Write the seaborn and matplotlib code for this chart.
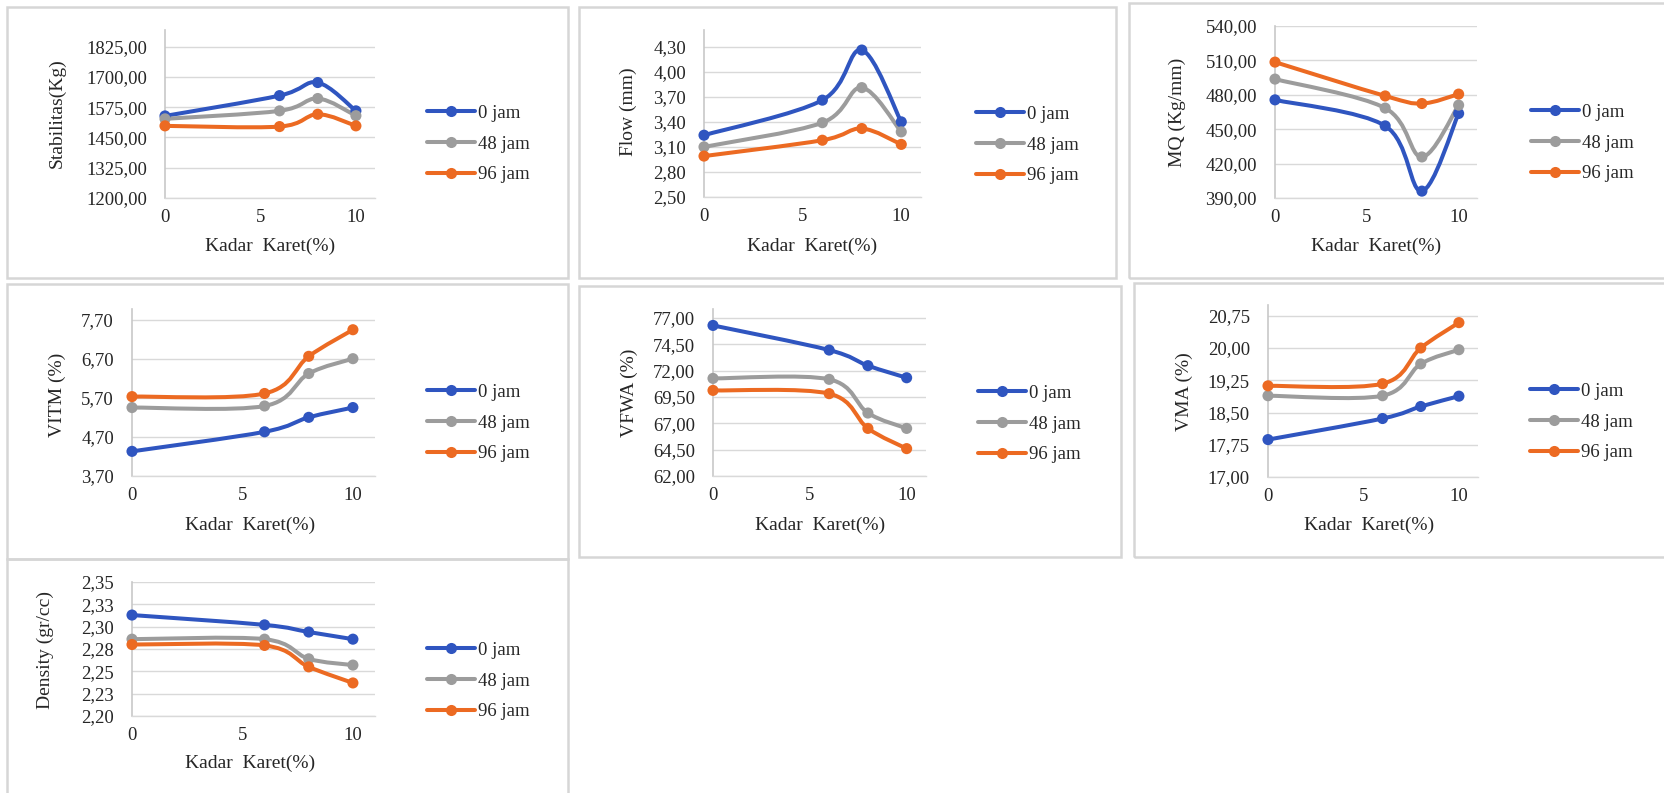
import numpy as np
import pandas as pd
import matplotlib
matplotlib.use("Agg")
import matplotlib.pyplot as plt
from matplotlib.path import Path
from matplotlib.patches import PathPatch, Rectangle
from matplotlib.lines import Line2D
import seaborn as sns

# ---------------- data ----------------
kadar_karet = [0, 6, 8, 10]
series_names = ["0 jam", "48 jam", "96 jam"]
x_ticks = [0, 5, 10]
x_tick_labels = ["0", "5", "10"]

stab_0 = [1539, 1623, 1677, 1560]
stab_48 = [1527, 1560, 1611, 1540]
stab_96 = [1498, 1495, 1546, 1498]
stab_ticks = [1200, 1325, 1450, 1575, 1700, 1825]
stab_labels = ["1200,00", "1325,00", "1450,00", "1575,00", "1700,00", "1825,00"]

flow_0 = [3.24, 3.66, 4.26, 3.40]
flow_48 = [3.10, 3.39, 3.81, 3.28]
flow_96 = [2.99, 3.18, 3.32, 3.13]
flow_ticks = [2.5, 2.8, 3.1, 3.4, 3.7, 4.0, 4.3]
flow_labels = ["2,50", "2,80", "3,10", "3,40", "3,70", "4,00", "4,30"]

mq_0 = [475.6, 452.9, 396.0, 463.7]
mq_48 = [493.7, 468.4, 425.8, 471.0]
mq_96 = [508.5, 479.0, 472.4, 480.6]
mq_ticks = [390, 420, 450, 480, 510, 540]
mq_labels = ["390,00", "420,00", "450,00", "480,00", "510,00", "540,00"]

vitm_0 = [4.33, 4.83, 5.20, 5.45]
vitm_48 = [5.45, 5.49, 6.32, 6.70]
vitm_96 = [5.73, 5.81, 6.76, 7.44]
vitm_ticks = [3.7, 4.7, 5.7, 6.7, 7.7]
vitm_labels = ["3,70", "4,70", "5,70", "6,70", "7,70"]

vfwa_0 = [76.30, 73.96, 72.48, 71.33]
vfwa_48 = [71.27, 71.18, 67.98, 66.52]
vfwa_96 = [70.13, 69.82, 66.52, 64.60]
vfwa_ticks = [62.0, 64.5, 67.0, 69.5, 72.0, 74.5, 77.0]
vfwa_labels = ["62,00", "64,50", "67,00", "69,50", "72,00", "74,50", "77,00"]

vma_0 = [17.87, 18.36, 18.64, 18.88]
vma_48 = [18.89, 18.89, 19.63, 19.96]
vma_96 = [19.12, 19.17, 20.00, 20.59]
vma_ticks = [17.0, 17.75, 18.5, 19.25, 20.0, 20.75]
vma_labels = ["17,00", "17,75", "18,50", "19,25", "20,00", "20,75"]

dens_0 = [2.313, 2.302, 2.294, 2.286]
dens_48 = [2.286, 2.286, 2.264, 2.257]
dens_96 = [2.280, 2.279, 2.255, 2.237]
dens_ticks = [2.2, 2.225, 2.25, 2.275, 2.3, 2.325, 2.35]
dens_labels = ["2,20", "2,23", "2,25", "2,28", "2,30", "2,33", "2,35"]

# ---------------- style ----------------
sns.set_theme(style="white")
plt.rcParams["font.family"] = ["Liberation Serif", "DejaVu Serif"]

W, H = 1664, 793
COLORS = ["#2F55C0", "#9C9C9C", "#EC6A22"]
TEXT = "#262626"
GRID = "#D9D9D9"
FS = 13.5
LFS = 14
LW = 2.9
MS = 8.0

fig = plt.figure(figsize=(W / 100, H / 100), dpi=100)
fig.patch.set_facecolor("white")


def fxp(px):
    return px / W


def fyp(py):
    return 1 - py / H


def smooth_path(xs, ys):
    """Catmull-Rom style cubic Bezier through the points (spreadsheet 'smoothed line')."""
    pts = np.column_stack([xs, ys]).astype(float)
    n = len(pts)
    verts = [pts[0]]
    codes = [Path.MOVETO]
    for i in range(n - 1):
        p0 = pts[i - 1] if i > 0 else pts[i]
        p1 = pts[i]
        p2 = pts[i + 1]
        p3 = pts[i + 2] if i + 2 < n else pts[i + 1]
        verts += [p1 + (p2 - p0) / 6, p2 - (p3 - p1) / 6, p2]
        codes += [Path.CURVE4] * 3
    return Path(verts, codes)


panels = [
    dict(series=(stab_0, stab_48, stab_96), ylabel="Stabilitas(Kg)", ticks=stab_ticks,
         labels=stab_labels, ylim=(1200, 1894),
         box=(7, 7, 568, 278), plot=(165, 30, 375, 198), ylab=(57, 113), xlab=(270, 246), leg=(427, 144)),
    dict(series=(flow_0, flow_48, flow_96), ylabel="Flow (mm)", ticks=flow_ticks,
         labels=flow_labels, ylim=(2.5, 4.5),
         box=(579, 7, 1116, 278), plot=(704, 30, 921, 197), ylab=(628, 112), xlab=(812, 246), leg=(976, 145)),
    dict(series=(mq_0, mq_48, mq_96), ylabel="MQ (Kg/mm)", ticks=mq_ticks,
         labels=mq_labels, ylim=(390, 540),
         box=(1129, 3, 1690, 278), plot=(1275, 26, 1477, 198), ylab=(1177, 112), xlab=(1376, 246), leg=(1531, 143)),
    dict(series=(vitm_0, vitm_48, vitm_96), ylabel="VITM (%)", ticks=vitm_ticks,
         labels=vitm_labels, ylim=(3.7, 7.97),
         box=(7, 284, 568, 559), plot=(132, 309, 375, 476), ylab=(57, 395), xlab=(250, 525), leg=(427, 423)),
    dict(series=(vfwa_0, vfwa_48, vfwa_96), ylabel="VFWA (%)", ticks=vfwa_ticks,
         labels=vfwa_labels, ylim=(62, 77.86),
         box=(579, 286, 1121, 557), plot=(713, 309, 926, 476), ylab=(629, 393), xlab=(820, 525), leg=(978, 424)),
    dict(series=(vma_0, vma_48, vma_96), ylabel="VMA (%)", ticks=vma_ticks,
         labels=vma_labels, ylim=(17, 21.0),
         box=(1134, 283, 1690, 557), plot=(1268, 305, 1478, 477), ylab=(1184, 392), xlab=(1369, 525), leg=(1530, 422)),
    dict(series=(dens_0, dens_48, dens_96), ylabel="Density (gr/cc)", ticks=dens_ticks,
         labels=dens_labels, ylim=(2.2, 2.35),
         box=(7, 559, 568, 820), plot=(132, 582, 375, 716), ylab=(45, 650), xlab=(250, 763), leg=(427, 681)),
]

for p in panels:
    # panel frame
    bx0, by0, bx1, by1 = p["box"]
    fig.add_artist(Rectangle((fxp(bx0), fyp(by1)), fxp(bx1 - bx0), (by1 - by0) / H,
                             transform=fig.transFigure, fill=False,
                             edgecolor="#D6D6D6", linewidth=1.8, zorder=0))

    x0, y0, x1, y1 = p["plot"]
    ax = fig.add_axes([fxp(x0), fyp(y1), fxp(x1 - x0), (y1 - y0) / H])
    ax.set_facecolor("none")

    df = pd.DataFrame({
        "kadar": kadar_karet * 3,
        "nilai": list(p["series"][0]) + list(p["series"][1]) + list(p["series"][2]),
        "waktu": sum([[s] * len(kadar_karet) for s in series_names], []),
    })

    for name, color in zip(series_names, COLORS):
        sub = df[df["waktu"] == name]
        ax.add_patch(PathPatch(smooth_path(sub["kadar"], sub["nilai"]), fill=False,
                               edgecolor=color, linewidth=LW, capstyle="round",
                               joinstyle="round", zorder=3))
    sns.scatterplot(data=df, x="kadar", y="nilai", hue="waktu", palette=COLORS,
                    hue_order=series_names, s=MS ** 2, edgecolor="none",
                    legend=False, ax=ax, zorder=4, clip_on=False)

    ax.set_xlim(0, 11)
    ax.set_ylim(*p["ylim"])
    ax.set_xticks(x_ticks)
    ax.set_xticklabels(x_tick_labels)
    ax.set_yticks(p["ticks"])
    ax.set_yticklabels(p["labels"])
    ax.grid(axis="y", color=GRID, linewidth=1.0, zorder=0)
    ax.grid(axis="x", visible=False)
    ax.set_axisbelow(True)
    for side in ("top", "right"):
        ax.spines[side].set_visible(False)
    ax.spines["left"].set_color("#C8C8C8")
    ax.spines["left"].set_linewidth(1.2)
    ax.spines["bottom"].set_color(GRID)
    ax.spines["bottom"].set_linewidth(1.0)
    ax.tick_params(axis="both", length=0, labelsize=FS, labelcolor=TEXT)
    ax.tick_params(axis="y", pad=13)
    ax.tick_params(axis="x", pad=8)

    ax.set_xlabel("Kadar  Karet(%)", fontsize=LFS, color=TEXT, va="center")
    ax.xaxis.set_label_coords(fxp(p["xlab"][0]), fyp(p["xlab"][1]), transform=fig.transFigure)
    ax.set_ylabel(p["ylabel"], fontsize=LFS, color=TEXT, va="center")
    ax.yaxis.set_label_coords(fxp(p["ylab"][0]), fyp(p["ylab"][1]), transform=fig.transFigure)

    handles = [Line2D([], [], color=c, lw=LW, marker="o", markersize=MS,
                      markeredgewidth=0) for c in COLORS]
    fig.legend(handles, series_names, loc="center left",
               bbox_to_anchor=(fxp(p["leg"][0]), fyp(p["leg"][1])),
               bbox_transform=fig.transFigure, frameon=False, fontsize=FS,
               labelcolor=TEXT, handlelength=2.55, handletextpad=0.15,
               labelspacing=0.72, borderpad=0, borderaxespad=0)

fig.savefig("out.png", dpi=100, facecolor="white")
